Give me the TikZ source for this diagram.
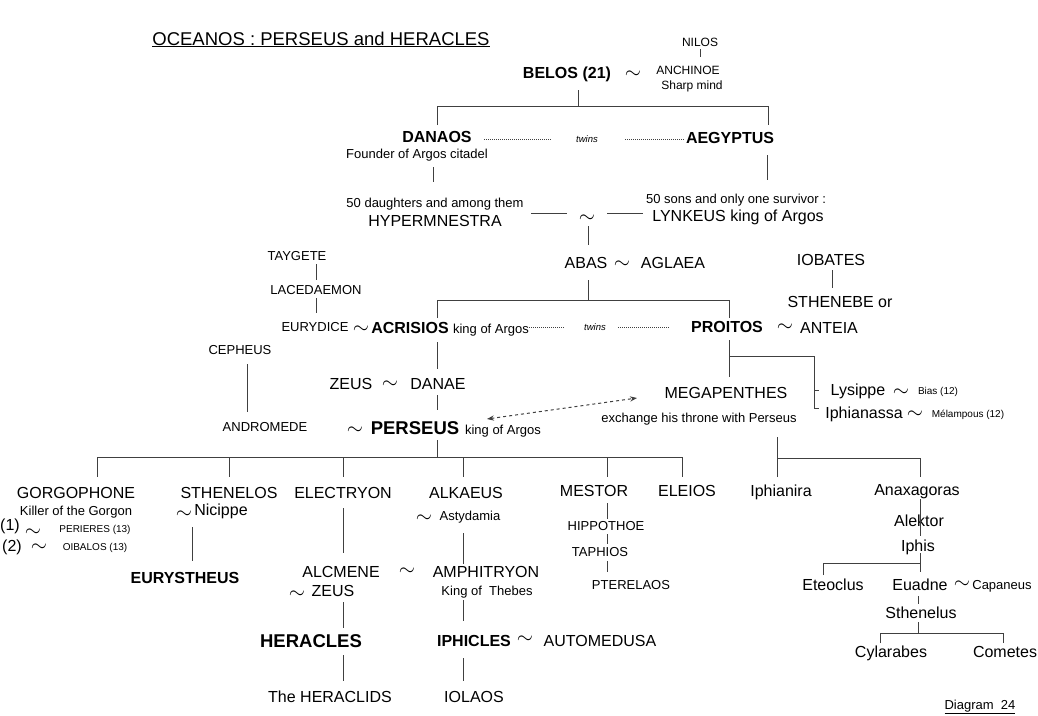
\documentclass[tikz,border=0pt]{standalone}
\usepackage{fontspec}
\setmainfont{Liberation Sans}
\usetikzlibrary{arrows.meta}

\begin{document}
\begin{tikzpicture}[x=1pt, y=-1pt,
    every node/.style={inner sep=0pt, anchor=base},
    gen/.style={font=\fontsize{16}{18}\selectfont},
    genb/.style={font=\fontsize{16}{18}\selectfont\bfseries},
    hero/.style={font=\fontsize{18.5}{20}\selectfont\bfseries},
    note/.style={font=\fontsize{13}{15}\selectfont},
    small/.style={font=\fontsize{12}{14}\selectfont},
    tiny/.style={font=\fontsize{10}{12}\selectfont},
    twinsnote/.style={font=\fontsize{9.5}{11}\selectfont\itshape},
    wed/.style={font=\fontsize{20}{22}\selectfont, text height=7pt, text depth=0pt, yshift=-6pt},
    link/.style={line width=1pt, black!75}]
    \useasboundingbox[fill=white] (0,0) rectangle (1038,715);

    % title and caption
    \node (title) at (321,45) {\fontsize{18.5}{20}\selectfont\underline{OCEANOS : PERSEUS and HERACLES}};
    \node[note] (caption) at (980,709) {\underline{Diagram\ \ 24}};

    % Belos and his sons
    \node[small] (nilos) at (700,46) {NILOS};
    \node[small] (anchinoe) at (688,74) {ANCHINOE};
    \node[small] (sharp) at (692,89) {Sharp mind};
    \node[genb] (belos) at (567,78) {BELOS (21)};
    \node[wed] (w1) at (633,72) {$\sim$};
    \node[genb] (danaos) at (437,142) {DANAOS};
    \node[note] (founder) at (417,158) {Founder of Argos citadel};
    \node[twinsnote] (twins1) at (587,142) {twins};
    \node[genb] (aegyptus) at (730,143) {AEGYPTUS};

    % Danaids and sons of Aegyptus
    \node[note] (daughters) at (435,207) {50 daughters and among them};
    \node[gen] (hyper) at (435,226) {HYPERMNESTRA};
    \node[wed] (w2) at (587,216) {$\sim$};
    \node[note] (sons) at (736,203) {50 sons and only one survivor :};
    \node[gen] (lynkeus) at (738,221) {LYNKEUS king of Argos};
    \node[gen] (abas) at (586,268) {ABAS};
    \node[wed] (w3) at (622,262) {$\sim$};
    \node[gen] (aglaea) at (673,268) {AGLAEA};

    % Acrisios and Proitos
    \node[note] (taygete) at (297,260) {TAYGETE};
    \node[note] (lacedaemon) at (316,294) {LACEDAEMON};
    \node[note] (eurydice) at (315,331) {EURYDICE};
    \node[wed] (w4) at (361,327) {$\sim$};
    \node[genb] (acrisios) at (410,333) {ACRISIOS};
    \node[note] (kingA) at (491,333) {king of Argos};
    \node[twinsnote] (twins2) at (595,330) {twins};
    \node[genb] (proitos) at (727,332) {PROITOS};
    \node[wed] (w5) at (785,325) {$\sim$};
    \node[gen] (anteia) at (829,333) {ANTEIA};
    \node[gen] (iobates) at (831,265) {IOBATES};
    \node[gen] (sthenebe) at (840,307) {STHENEBE or};

    % Perseus
    \node[note] (cepheus) at (240,354) {CEPHEUS};
    \node[note] (andromede) at (265,431) {ANDROMEDE};
    \node[gen] (zeus) at (351,389) {ZEUS};
    \node[wed] (w6) at (390,382) {$\sim$};
    \node[gen] (danae) at (438,389) {DANAE};
    \node[wed] (w7) at (355,428) {$\sim$};
    \node[hero] (perseus) at (415,434) {PERSEUS};
    \node[note] (kingP) at (503,434) {king of Argos};

    % Megapenthes and daughters of Proitos
    \node[gen] (megapenthes) at (726,398) {MEGAPENTHES};
    \node[note] (exchange) at (699,422) {exchange his throne with Perseus};
    \node[gen] (lysippe) at (858,395) {Lysippe};
    \node[wed] (w8) at (901,390) {$\sim$};
    \node[tiny] (bias) at (938,394) {Bias (12)};
    \node[gen] (iphianassa) at (864,418) {Iphianassa};
    \node[wed] (w9) at (915,412) {$\sim$};
    \node[tiny] (melampous) at (968,417) {Mélampous (12)};
    \node[gen] (iphianira) at (781,496) {Iphianira};
    \node[gen] (anaxagoras) at (917,495) {Anaxagoras};
    \node[gen] (alektor) at (919,526) {Alektor};
    \node[gen] (iphis) at (918,551) {Iphis};
    \node[gen] (eteoclus) at (833,590) {Eteoclus};
    \node[gen] (euadne) at (920,590) {Euadne};
    \node[wed] (w10) at (962,582) {$\sim$};
    \node[note] (capaneus) at (1002,589) {Capaneus};
    \node[gen] (sthenelus) at (921,618) {Sthenelus};
    \node[gen] (cylarabes) at (891,657) {Cylarabes};
    \node[gen] (cometes) at (1005,657) {Cometes};

    % children of Perseus
    \node[gen] (gorgophone) at (76,498) {GORGOPHONE};
    \node[note] (killer) at (76,515) {Killer of the Gorgon};
    \node[gen] (first) at (10,530) {(1)};
    \node[wed] (w11) at (33,530) {$\sim$};
    \node[tiny] (perieres) at (95,532) {PERIERES (13)};
    \node[gen] (second) at (12,551) {(2)};
    \node[wed] (w12) at (39,545) {$\sim$};
    \node[tiny] (oibalos) at (95,550) {OIBALOS (13)};
    \node[gen] (sthenelos) at (229,498) {STHENELOS};
    \node[wed] (w13) at (184,512) {$\sim$};
    \node[gen] (nicippe) at (221,515) {Nicippe};
    \node[genb] (eurystheus) at (185,583) {EURYSTHEUS};
    \node[gen] (electryon) at (343,498) {ELECTRYON};
    \node[gen] (alcmene) at (341,577) {ALCMENE};
    \node[wed] (w14) at (407,569) {$\sim$};
    \node[wed] (w15) at (297,592) {$\sim$};
    \node[gen] (zeusB) at (333,596) {ZEUS};
    \node[hero] (heracles) at (311,647) {HERACLES};
    \node[gen] (heraclids) at (330,702) {The HERACLIDS};
    \node[gen] (alkaeus) at (466,498) {ALKAEUS};
    \node[wed] (w16) at (424,516) {$\sim$};
    \node[note] (astydamia) at (470,520) {Astydamia};
    \node[gen] (amphitryon) at (486,577) {AMPHITRYON};
    \node[note] (thebes) at (487,595) {King of\ \ Thebes};
    \node[genb] (iphicles) at (474,646) {IPHICLES};
    \node[wed] (w17) at (525,637) {$\sim$};
    \node[gen] (automedusa) at (600,646) {AUTOMEDUSA};
    \node[gen] (iolaos) at (474,702) {IOLAOS};
    \node[gen] (mestor) at (594,496) {MESTOR};
    \node[note] (hippothoe) at (606,530) {HIPPOTHOE};
    \node[note] (taphios) at (600,556) {TAPHIOS};
    \node[note] (pterelaos) at (631,589) {PTERELAOS};
    \node[gen] (eleios) at (687,496) {ELEIOS};

    % junctions
    \coordinate (jBelos) at (578,106);
    \coordinate (jAbas) at (588,300);
    \coordinate (jPerseus) at (437,457);
    \coordinate (jProitos) at (729,356);
    \coordinate (jMega) at (777,458);
    \coordinate (jIphis) at (920,563);
    \coordinate (jSthen) at (918,633);

    % Belos to Lynkeus
    \draw[link] (700,49) coordinate (nilosB) -- (700,57) coordinate (anchT);
    \draw[link] (578,90) coordinate (belosB) -- (jBelos);
    \draw[link] (437,125) coordinate (danaosT) -- (437,106) -- (768,106) -- (768,125) coordinate (aegyT);
    \draw[link, densely dotted] (484,139) coordinate (dotA) -- (552,139) coordinate (dotB);
    \draw[link, densely dotted] (625,139) coordinate (dotC) -- (684,139) coordinate (dotD);
    \draw[link] (433,167) coordinate (founderB) -- (433,182) coordinate (daughtT);
    \draw[link] (767,155) coordinate (aegyB) -- (767,180) coordinate (sonsT);
    \draw[link] (531,213) coordinate (hypR) -- (567,213) coordinate (w2L);
    \draw[link] (607,213) coordinate (w2R) -- (643,213) coordinate (lynL);
    \draw[link] (588,226) coordinate (w2B) -- (588,245) coordinate (abasT);
    \draw[link] (588,280) coordinate (abasB) -- (jAbas);
    \draw[link] (437,318) coordinate (acrT) -- (437,300) -- (729,300) -- (729,318) coordinate (proT);

    % Acrisios, Proitos and their wives
    \draw[link] (316,264) coordinate (tayB) -- (316,280) coordinate (lacT);
    \draw[link] (316,298) coordinate (lacB) -- (316,313) coordinate (euryT);
    \draw[link] (832,270) coordinate (iobB) -- (832,288) coordinate (sthT);
    \draw[link, densely dotted] (527,327) coordinate (dotE) -- (565,327) coordinate (dotF);
    \draw[link, densely dotted] (618,327) coordinate (dotG) -- (670,327) coordinate (dotH);
    \draw[link] (247,364) coordinate (cepB) -- (247,412) coordinate (andT);
    \draw[link] (437,342) coordinate (acrB) -- (437,369) coordinate (zeusT);
    \draw[link] (437,395) coordinate (danaeB) -- (437,410) coordinate (perT);
    \draw[link, dashed, {Stealth[length=7pt]}-{Stealth[length=7pt]}] (487,419) coordinate (arrL) -- (637,398) coordinate (arrR);

    % Proitos' children
    \draw[link] (729,340) coordinate (proB) -- (729,377) coordinate (megT);
    \draw[link] (jProitos) -- (814,356) -- (814,408) -- (819,408) coordinate (iphiaL);
    \draw[link] (814,390) -- (819,390) coordinate (lysL);
    \draw[link] (777,437) coordinate (exchB) -- (jMega);
    \draw[link] (777,477) coordinate (iphiraT) -- (jMega) -- (920,458) -- (920,477) coordinate (anaxT);
    \draw[link] (920,499) coordinate (anaxB) -- (920,536) coordinate (iphisT);
    \draw[link] (920,553) coordinate (iphisB) -- (jIphis);
    \draw[link] (823,575) coordinate (eteT) -- (823,563) -- (jIphis) -- (920,572) coordinate (euaT);
    \draw[link] (918,596) coordinate (euaB) -- (918,604) coordinate (sthlT);
    \draw[link] (918,622) coordinate (sthlB) -- (jSthen);
    \draw[link] (880,643) coordinate (cylT) -- (880,633) -- (1003,633) -- (1003,643) coordinate (comT);

    % Perseus' children
    \draw[link] (437,440) coordinate (perB) -- (jPerseus);
    \draw[link] (97,457) -- (682,457);
    \foreach \x/\n in {97/gor, 229/sthS, 343/eleT, 463/alkT, 607/mesT, 682/eleiT}
        \draw[link] (\x,457) -- (\x,477) coordinate (\n);
    \draw[link] (192,527) coordinate (nicB) -- (192,561) coordinate (euryS);
    \draw[link] (343,508) coordinate (electB) -- (343,553) coordinate (alcT);
    \draw[link] (343,602) coordinate (zeusBB) -- (343,628) coordinate (herT);
    \draw[link] (343,655) coordinate (herB) -- (343,681) coordinate (herdT);
    \draw[link] (463,533) coordinate (astB) -- (463,564) coordinate (ampT);
    \draw[link] (463,600) coordinate (thebB) -- (463,621) coordinate (iphcT);
    \draw[link] (463,658) coordinate (iphcB) -- (463,681) coordinate (iolT);
    \draw[link] (607,503) coordinate (mesB) -- (607,519) coordinate (hipT);
    \draw[link] (607,534) coordinate (hipB) -- (607,544) coordinate (tapT);
    \draw[link] (607,561) coordinate (tapB) -- (607,572) coordinate (pteT);
\end{tikzpicture}
\end{document}
